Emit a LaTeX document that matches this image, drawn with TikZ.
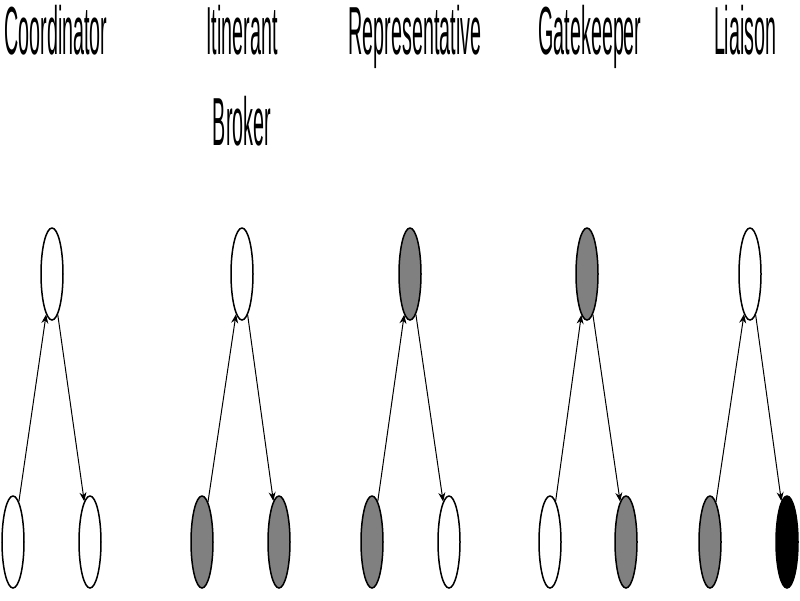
\documentclass[tikz,border=0pt]{standalone}
\usepackage{fontspec}
\usetikzlibrary{shapes.geometric, arrows.meta}
\newfontfamily\rolefont[FakeStretch=0.29]{Liberation Sans}

\begin{document}
\begin{tikzpicture}[x=1pt, y=-1pt]
            \tikzstyle{actor} = [draw, ellipse, line width=1.5pt, inner sep=0pt, minimum width=22pt, minimum height=92pt]
            \tikzstyle{tran}  = [-{Stealth[length=9pt, width=7pt]}, line width=1pt]
            \tikzstyle{rol}   = [font=\rolefont\fontsize{68}{91}\selectfont, align=center, anchor=north, inner sep=0pt]

            \definecolor{g0}{rgb}{1.000,1.000,1.000}
            \definecolor{g1}{rgb}{0.502,0.502,0.502}
            \definecolor{g2}{rgb}{0.000,0.000,0.000}

            \useasboundingbox (0,0) rectangle (800,600);

            % Draw the five roles: label, mediator on top, two ends below.
            \foreach \r/\xl/\xt/\xa/\xb/\ct/\ca/\cb/\nume in {
                    1/56/52/13/90/0/0/0/Coordinator,
                    2/242/242/202/279/0/1/1/{Itinerant\\Broker},
                    3/415/410/372/449/1/1/0/Representative,
                    4/590/587/550/626/1/0/1/Gatekeeper,
                    5/748/750/710/787/0/1/2/Liaison
            } {
                \node[rol] (rol\r) at (\xl, 5) {\nume};
                \node[actor, fill=g\ct] (top\r)   at (\xt, 274) {};
                \node[actor, fill=g\ca] (left\r)  at (\xa, 542) {};
                \node[actor, fill=g\cb] (right\r) at (\xb, 542) {};
                \draw[tran] (left\r) -- (top\r);
                \draw[tran] (top\r) -- (right\r);
            }

\end{tikzpicture}
\end{document}
